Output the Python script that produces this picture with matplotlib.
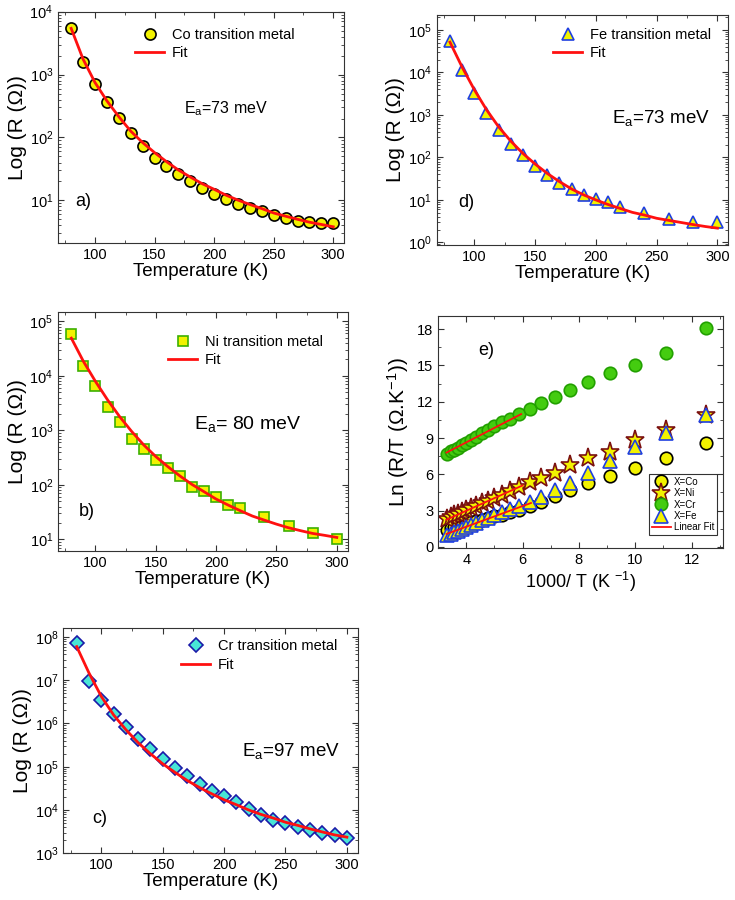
import numpy as np
import matplotlib
matplotlib.use("Agg")
import matplotlib.pyplot as plt
from matplotlib.ticker import MultipleLocator, LogLocator, NullFormatter
from matplotlib.lines import Line2D

plt.rcParams['font.family'] = ['Liberation Sans', 'DejaVu Sans']
plt.rcParams['mathtext.fontset'] = 'custom'
plt.rcParams['mathtext.rm'] = 'Liberation Sans'
plt.rcParams['mathtext.it'] = 'Liberation Sans'
plt.rcParams['mathtext.default'] = 'regular'
plt.rcParams['axes.edgecolor'] = '#333333'

# temperatures (K)
T_full = [80, 90, 100, 110, 120, 130, 140, 150, 160, 170, 180, 190, 200,
          210, 220, 230, 240, 250, 260, 270, 280, 290, 300]
T_part = [80, 90, 100, 110, 120, 130, 140, 150, 160, 170, 180, 190, 200,
          210, 220, 240, 260, 280, 300]

# a) Co
co_R = [5600, 1560, 705, 360, 202, 117, 72, 48, 35, 26, 20, 15.7, 12.6,
        10.4, 8.8, 7.7, 6.7, 5.9, 5.2, 4.7, 4.5, 4.4, 4.3]
co_fit = [5430, 1760, 748, 382, 214, 126, 83, 57.5, 41.3, 30.4, 23.5, 18.4, 15.0,
          12.1, 10.1, 8.6, 7.4, 6.3, 5.6, 5.0, 4.5, 4.14, 3.8]

# d) Fe
fe_R = [54000, 11100, 3300, 1120, 450, 205, 113, 63, 39, 25, 17.8, 13.3, 10.4,
        8.7, 7.0, 4.9, 3.6, 3.1, 2.95]
fe_fit = [51300, 13300, 3930, 1330, 525, 242, 124, 70, 42, 27, 18.1, 13.1, 10.0,
          7.8, 6.3, 5.1, 4.4, 3.7, 3.3, 2.95, 2.63, 2.37, 2.17]

# b) Ni
ni_R = [58500, 14900, 6600, 2670, 1410, 690, 451, 287, 207, 146, 93, 76, 61,
        43, 37.7, 25.4, 17.8, 12.9, 10]
ni_fit = [49000, 18400, 7890, 3630, 1790, 955, 541, 331, 216, 146, 102, 75, 55,
          42.7, 33.7, 26.9, 22.6, 19.1, 16.4, 14.5, 12.9, 11.9, 10.9]

# c) Cr
cr_R = [7.3e7, 9.4e6, 3.5e6, 1.68e6, 8.3e5, 4.4e5, 2.55e5, 1.5e5, 9.3e4, 6.0e4,
        3.95e4, 2.8e4, 2.05e4, 1.5e4, 1.05e4, 7.8e3, 5.9e3, 4.9e3, 4.1e3, 3.5e3,
        2.9e3, 2.6e3, 2.2e3]
cr_fit = [6.0e7, 1.47e7, 4.24e6, 1.58e6, 7.2e5, 3.6e5, 2.0e5, 1.17e5, 7.4e4, 4.8e4,
          3.3e4, 2.36e4, 1.72e4, 1.32e4, 1.0e4, 7.9e3, 6.5e3, 5.2e3, 4.4e3, 3.65e3,
          3.1e3, 2.65e3, 2.35e3]

# e) Ln(R/T) vs 1000/T
inv_T = [3.33, 3.45, 3.57, 3.70, 3.85, 4.0, 4.17, 4.35, 4.55, 4.76, 5.0, 5.26,
         5.56, 5.88, 6.25, 6.67, 7.14, 7.69, 8.33, 9.09, 10.0, 11.11, 12.5]
e_cr = [7.7, 7.9, 8.0, 8.2, 8.43, 8.63, 8.85, 9.1, 9.4, 9.67, 10.0, 10.3,
        10.6, 11.0, 11.4, 11.87, 12.4, 13.0, 13.6, 14.4, 15.08, 16.07, 18.1]
e_co = [1.43, 1.54, 1.62, 1.70, 1.81, 1.92, 2.03, 2.14, 2.25, 2.39, 2.53, 2.66,
        2.88, 3.08, 3.35, 3.68, 4.18, 4.67, 5.27, 5.88, 6.51, 7.39, 8.63]
e_ni = [2.3, 2.45, 2.6, 2.75, 2.9, 3.05, 3.25, 3.4, 3.6, 3.8, 4.05, 4.3,
        4.6, 4.95, 5.33, 5.69, 6.1, 6.73, 7.33, 7.85, 8.8, 9.65, 10.9]
e_fe = [1.0, 1.1, 1.2, 1.35, 1.5, 1.65, 1.8, 2.0, 2.2, 2.4, 2.6, 2.85,
        3.1, 3.35, 3.7, 4.15, 4.7, 5.3, 6.1, 7.1, 8.25, 9.4, 10.9]
cr_lin_x, cr_lin_y = [3.3, 5.95], [7.8, 10.98]
ni_lin_x, ni_lin_y = [3.3, 6.0], [2.25, 5.08]
fe_lin_x, fe_lin_y = [3.3, 6.3], [1.07, 3.63]

RED = '#ff1010'
YEL = '#f2f200'

fig = plt.figure(figsize=(7.35, 9.0), dpi=100)


def style(ax):
    ax.tick_params(which='both', direction='in', top=True, right=True,
                   labelsize=10.5, colors='#333333', labelcolor='black')
    ax.tick_params(which='major', length=4)
    ax.tick_params(which='minor', length=2)


def temp_panel(rect, T, R, fit, mk, ms, fc, ec, label, ylim, ea, ea_pos, ea_fs,
               tag, tag_pos, leg_pos):
    ax = fig.add_axes(rect)
    ax.plot(T_full, fit, color=RED, lw=2, zorder=3)
    ax.plot(T, R, ls='none', marker=mk, ms=ms, mfc=fc, mec=ec, mew=1.2, zorder=2)
    ax.set_yscale('log')
    ax.set_xlim(69, 309)
    ax.set_ylim(*ylim)
    ax.xaxis.set_major_locator(MultipleLocator(50))
    ax.xaxis.set_minor_locator(MultipleLocator(25))
    ax.yaxis.set_major_locator(LogLocator(base=10, numticks=12))
    ax.yaxis.set_minor_locator(LogLocator(base=10, subs=np.arange(2, 10), numticks=12))
    ax.yaxis.set_minor_formatter(NullFormatter())
    style(ax)
    ax.set_xlabel('Temperature (K)', fontsize=13.5, labelpad=1)
    ax.set_ylabel('Log (R (Ω))', fontsize=15, labelpad=2)
    ax.text(ea_pos[0], ea_pos[1], ea, transform=ax.transAxes, fontsize=ea_fs)
    ax.text(tag_pos[0], tag_pos[1], tag, transform=ax.transAxes, fontsize=13)
    handles = [Line2D([], [], ls='none', marker=mk, ms=ms, mfc=fc, mec=ec, mew=1.2),
               Line2D([], [], color=RED, lw=2)]
    ax.legend(handles, [label, 'Fit'], loc='upper left', bbox_to_anchor=leg_pos,
              frameon=False, fontsize=10.5, borderpad=0, borderaxespad=0,
              handletextpad=0.5, labelspacing=0.3)
    return ax


# a) Co
temp_panel([0.079, 0.730, 0.389, 0.257], T_full, co_R, co_fit, 'o', 8, YEL, 'black',
           'Co transition metal', (2.1, 1e4), 'E$_a$=73 meV', (0.44, 0.56), 11.5,
           'a)', (0.06, 0.16), (0.27, 0.93))

# d) Fe
temp_panel([0.594, 0.728, 0.397, 0.255], T_part, fe_R, fe_fit, '^', 9, YEL, '#1f3fe0',
           'Fe transition metal', (0.88, 2.2e5), 'E$_a$=73 meV', (0.60, 0.53), 13.5,
           'd)', (0.075, 0.165), (0.40, 0.945))

# b) Ni
temp_panel([0.079, 0.388, 0.394, 0.265], T_part, ni_R, ni_fit, 's', 7, YEL, '#3cb000',
           'Ni transition metal', (6.2, 1.46e5), 'E$_a$= 80 meV', (0.47, 0.51), 14,
           'b)', (0.07, 0.145), (0.38, 0.905))

# c) Cr
temp_panel([0.086, 0.052, 0.401, 0.250], T_full, cr_R, cr_fit, 'D', 7, '#48e6d6', '#1a1aa8',
           'Cr transition metal', (1e3, 1.6e8), 'E$_a$=97 meV', (0.605, 0.43), 13.5,
           'c)', (0.10, 0.135), (0.40, 0.95))

# e) Arrhenius plot
ax = fig.add_axes([0.596, 0.391, 0.387, 0.258])
ax.plot(inv_T, e_co, ls='none', marker='o', ms=9, mfc=YEL, mec='black', mew=1.2,
        label='X=Co')
ax.plot(inv_T, e_ni, ls='none', marker='*', ms=14, mfc=YEL, mec='#7a1010', mew=1.2,
        label='X=Ni')
ax.plot(inv_T, e_cr, ls='none', marker='o', ms=9, mfc='#44cc10', mec='#22a000', mew=1.2,
        label='X=Cr')
ax.plot(inv_T, e_fe, ls='none', marker='^', ms=10, mfc=YEL, mec='#1f3fe0', mew=1.2,
        label='X=Fe')
ax.plot(cr_lin_x, cr_lin_y, color=RED, lw=1.3, label='Linear Fit')
ax.plot(ni_lin_x, ni_lin_y, color=RED, lw=1.3)
ax.plot(fe_lin_x, fe_lin_y, color=RED, lw=1.3)
ax.set_xlim(3.0, 13.1)
ax.set_ylim(-0.1, 19.1)
ax.xaxis.set_major_locator(MultipleLocator(2))
ax.xaxis.set_minor_locator(MultipleLocator(1))
ax.yaxis.set_major_locator(MultipleLocator(3))
ax.yaxis.set_minor_locator(MultipleLocator(1.5))
style(ax)
ax.set_xlabel('1000/ T (K $^{-1}$)', fontsize=13, labelpad=2)
ax.set_ylabel('Ln (R/T (Ω.K$^{-1}$))', fontsize=15, labelpad=4)
ax.text(0.14, 0.83, 'e)', transform=ax.transAxes, fontsize=13)
leg = ax.legend(loc='lower right', bbox_to_anchor=(0.98, 0.057), fontsize=7,
                frameon=True, fancybox=False, edgecolor='black', borderpad=0.25,
                borderaxespad=0, handletextpad=0.3, labelspacing=0.15,
                handlelength=2.0, markerscale=1.0)
leg.get_frame().set_linewidth(0.8)

fig.savefig('out.png', dpi=100)
